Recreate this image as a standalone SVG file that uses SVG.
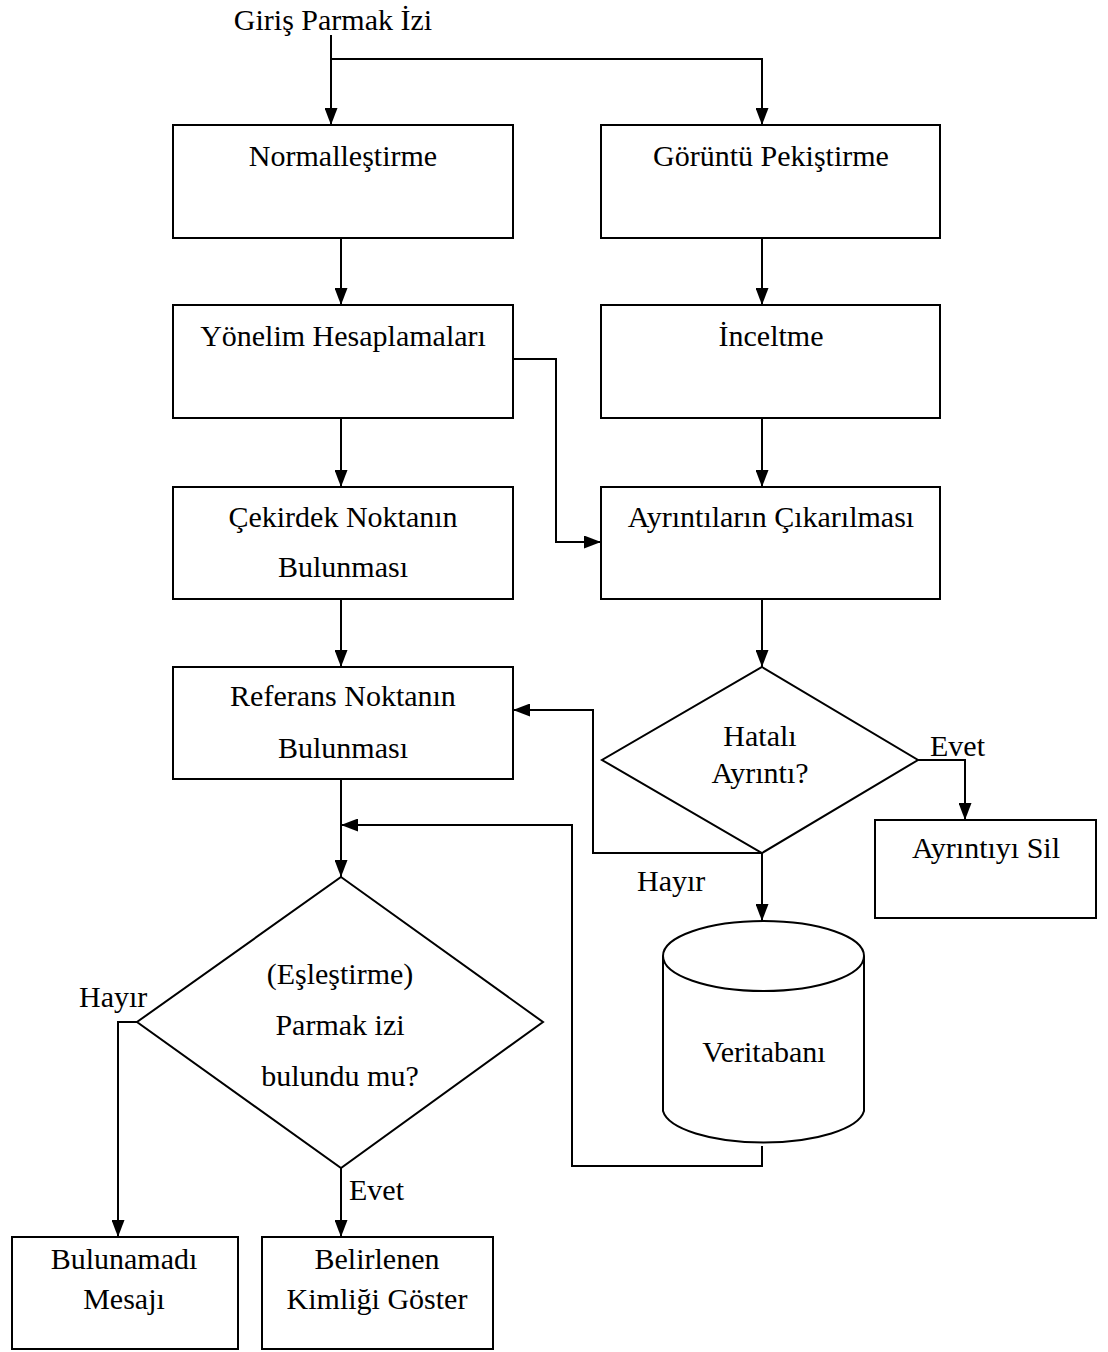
<svg xmlns="http://www.w3.org/2000/svg" width="1108" height="1352" viewBox="0 0 1108 1352">
<style>
.n{fill:#fff;stroke:#000;stroke-width:2}
.c{fill:none;stroke:#000;stroke-width:2}
text{font-family:"Liberation Serif","Times New Roman",serif;font-size:30px;fill:#000;text-anchor:middle;dominant-baseline:central}
.l{text-anchor:start}
</style>
<defs>
<marker id="a" markerWidth="17" markerHeight="13" refX="17" refY="6.5" orient="auto" markerUnits="userSpaceOnUse">
<path d="M0,0 L17,6.5 L0,13 Z" fill="#000"/>
</marker>
</defs>
<g id="connectors">
<path class="c" d="M331,35 V125" marker-end="url(#a)"/>
<path class="c" d="M331,59 H762 V125" marker-end="url(#a)"/>
<path class="c" d="M341,238 V305" marker-end="url(#a)"/>
<path class="c" d="M762,238 V305" marker-end="url(#a)"/>
<path class="c" d="M341,418 V487" marker-end="url(#a)"/>
<path class="c" d="M762,418 V487" marker-end="url(#a)"/>
<path class="c" d="M513,359 H556 V542 H601" marker-end="url(#a)"/>
<path class="c" d="M341,599 V667" marker-end="url(#a)"/>
<path class="c" d="M762,599 V667" marker-end="url(#a)"/>
<path class="c" d="M918,760 H965 V820" marker-end="url(#a)"/>
<path class="c" d="M762,853 H593 V710 H513" marker-end="url(#a)"/>
<path class="c" d="M762,853 V921" marker-end="url(#a)"/>
<path class="c" d="M341,779 V877" marker-end="url(#a)"/>
<path class="c" d="M762,1146 V1166 H572 V825 H341" marker-end="url(#a)"/>
<path class="c" d="M137,1022 H118 V1237" marker-end="url(#a)"/>
<path class="c" d="M341,1168 V1237" marker-end="url(#a)"/>
</g>
<g id="start"><text x="333" y="19">Giriş Parmak İzi</text></g>
<g id="normal"><rect class="n" x="173" y="125" width="340" height="113"/><text x="343" y="155">Normalleştirme</text></g>
<g id="pekistirme"><rect class="n" x="601" y="125" width="339" height="113"/><text x="771" y="155">Görüntü Pekiştirme</text></g>
<g id="yonelim"><rect class="n" x="173" y="305" width="340" height="113"/><text x="343" y="335">Yönelim Hesaplamaları</text></g>
<g id="inceltme"><rect class="n" x="601" y="305" width="339" height="113"/><text x="771" y="335">İnceltme</text></g>
<g id="cekirdek"><rect class="n" x="173" y="487" width="340" height="112"/><text x="343" y="516">Çekirdek Noktanın</text><text x="343" y="566">Bulunması</text></g>
<g id="ayrintilar"><rect class="n" x="601" y="487" width="339" height="112"/><text x="771" y="516">Ayrıntıların Çıkarılması</text></g>
<g id="referans"><rect class="n" x="173" y="667" width="340" height="112"/><text x="343" y="695">Referans Noktanın</text><text x="343" y="747">Bulunması</text></g>
<g id="hatali"><polygon class="n" points="762,667 918,760 762,853 602,760"/><text x="760" y="735">Hatalı</text><text x="760" y="772">Ayrıntı?</text></g>
<g id="sil"><rect class="n" x="875" y="820" width="221" height="98"/><text x="986" y="847">Ayrıntıyı Sil</text></g>
<g id="veritabani">
<path class="n" d="M663,956 V1111 A101,35 0 0 0 864,1111 V956"/>
<ellipse class="n" cx="763.5" cy="956" rx="100.5" ry="35"/>
<text x="764" y="1051">Veritabanı</text>
</g>
<g id="eslestirme"><polygon class="n" points="341,877 543,1022 341,1168 137,1022"/><text x="340" y="973">(Eşleştirme)</text><text x="340" y="1024">Parmak izi</text><text x="340" y="1075">bulundu mu?</text></g>
<g id="bulunamadi"><rect class="n" x="12" y="1237" width="226" height="112"/><text x="124" y="1258">Bulunamadı</text><text x="124" y="1298">Mesajı</text></g>
<g id="kimlik"><rect class="n" x="262" y="1237" width="231" height="112"/><text x="377" y="1258">Belirlenen</text><text x="377" y="1298">Kimliği Göster</text></g>
<g id="labels">
<text class="l" x="930" y="745">Evet</text>
<text class="l" x="637" y="880">Hayır</text>
<text class="l" x="79" y="996">Hayır</text>
<text class="l" x="349" y="1189">Evet</text>
</g>
</svg>
